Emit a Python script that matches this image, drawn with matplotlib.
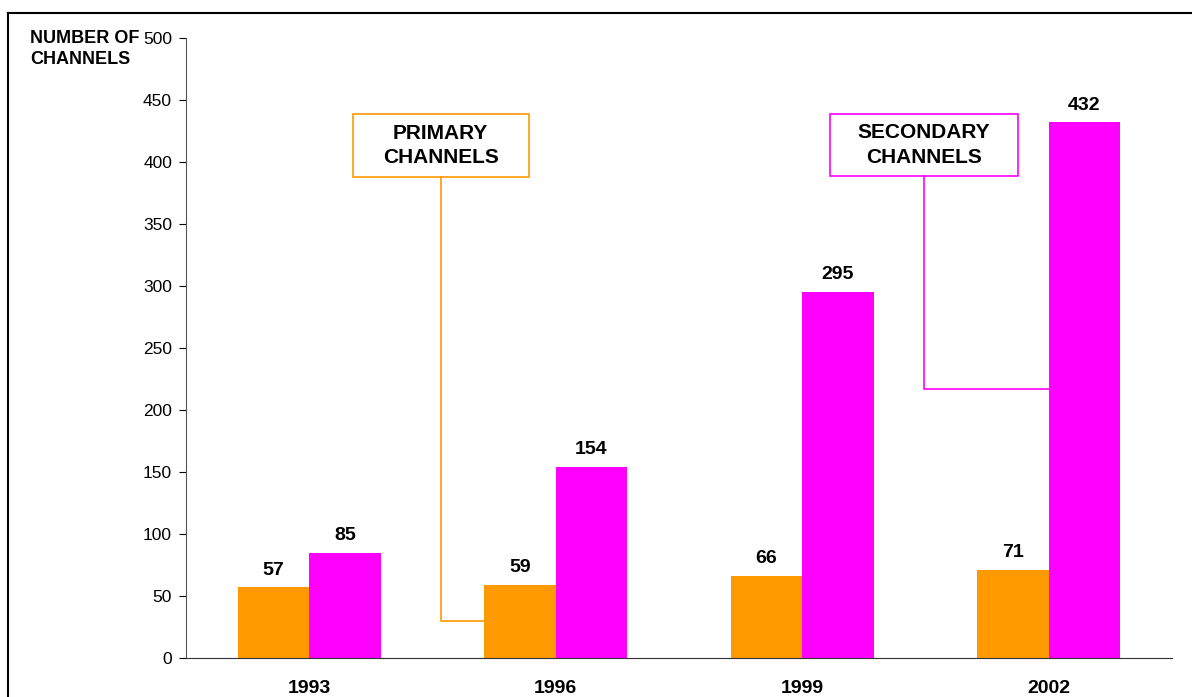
import numpy as np
import matplotlib.pyplot as plt
from matplotlib.patches import Rectangle

plt.rcParams['font.family'] = ['Liberation Sans', 'DejaVu Sans']

years = ['1993', '1996', '1999', '2002']
primary = [57, 59, 66, 71]
secondary = [85, 154, 295, 432]

orange = '#FF9900'
magenta = '#FF00FF'

fig = plt.figure(figsize=(11.92, 6.97), dpi=100)
ax = fig.add_axes([0.156, 0.056, 0.827, 0.8895])

x = np.arange(len(years)) + 0.5
w = 0.29
b1 = ax.bar(x - w / 2, primary, w, color=orange)
b2 = ax.bar(x + w / 2, secondary, w, color=magenta)

for bars, vals in ((b1, primary), (b2, secondary)):
    for r, v in zip(bars, vals):
        ax.text(r.get_x() + r.get_width() / 2, v + 7, str(v), ha='center', va='bottom',
                fontsize=14, fontweight='bold')

ax.set_xlim(0, 4)
ax.set_ylim(0, 500)
ax.set_yticks(range(0, 501, 50))
ax.set_xticks(x)
ax.set_xticklabels(years, fontsize=14, fontweight='bold')
ax.tick_params(axis='x', length=0, pad=16)
ax.tick_params(axis='y', direction='out', length=5, labelsize=12.5, pad=5)
for s in ('top', 'right'):
    ax.spines[s].set_visible(False)
ax.spines['left'].set_color('#555555')
ax.spines['bottom'].set_color('#333333')

# callout boxes
def callout(x0, x1, y0, y1, text, color, lx, ly, ex):
    ax.add_patch(Rectangle((x0, y0), x1 - x0, y1 - y0, fill=False, edgecolor=color, lw=1.2, clip_on=False))
    ax.text((x0 + x1) / 2, (y0 + y1) / 2, text, ha='center', va='center',
            fontsize=15, fontweight='bold', linespacing=1.35)
    ax.plot([lx, lx, ex], [y0, ly, ly], color=color, lw=1.2)

callout(0.677, 1.391, 388, 439, 'PRIMARY\nCHANNELS', orange, 1.034, 30, x[1] - w)
callout(2.613, 3.375, 388.5, 439, 'SECONDARY\nCHANNELS', magenta, 2.994, 217, x[3])

fig.text(30 / 1192, 1 - 30 / 697, 'NUMBER OF\nCHANNELS', ha='left', va='top',
         fontsize=13, fontweight='bold', linespacing=1.3)

# frame around figure
fig.add_artist(plt.Line2D([8 / 1192, 1.0], [1 - 13 / 697] * 2, color='black', lw=1.5, transform=fig.transFigure))
fig.add_artist(plt.Line2D([8 / 1192] * 2, [0, 1 - 13 / 697], color='black', lw=1.5, transform=fig.transFigure))

fig.savefig('out.png', dpi=100)
